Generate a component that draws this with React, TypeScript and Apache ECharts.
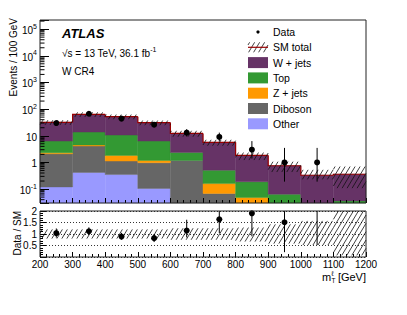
import React, { useEffect, useRef } from "react";
import * as echarts from "echarts";

// ---------- data ----------
const binLow = [200, 300, 400, 500, 600, 700, 800, 900, 1000, 1100];
const binWidth = 100;
// stacked backgrounds (bottom -> top)
const other = [0.12, 0.42, 0.35, 0.105, 0, 0, 0, 0, 0, 0];
const diboson = [1.98, 3.68, 0.77, 0.865, 1.19, 0.068, 0.03, 0, 0, 0];
const zjets = [0.2, 0.4, 0.71, 0.22, 0, 0.092, 0.018, 0, 0, 0];
const topq = [4.0, 9.2, 8.77, 5.1, 1.18, 0.35, 0.14, 0.064, 0, 0.036];
const wjets = [25.7, 49.3, 41.4, 24.7, 9.9, 5.14, 1.64, 0.686, 0.33, 0.324];
// relative SM uncertainty (main panel)
const mainBandUp = [0.2, 0.2, 0.2, 0.2, 0.25, 0.25, 0.28, 0.42, 0.6, 0.95];
const mainBandDn = [0.2, 0.2, 0.2, 0.2, 0.25, 0.25, 0.33, 0.42, 0.3, 0.7];
// relative SM uncertainty (ratio panel)
const ratioBandUp = [0.2, 0.2, 0.2, 0.2, 0.25, 0.25, 0.28, 0.42, 0.57, 1.0];
const ratioBandDn = [0.2, 0.2, 0.2, 0.2, 0.25, 0.25, 0.33, 0.42, 0.48, 0.93];
// data
const dataX = [250, 350, 450, 550, 650, 750, 850, 950, 1050];
const dataY = [30, 67, 44, 26, 13, 9, 3, 1, 1];
const dataErrUp = [6.5, 9.2, 7.7, 6.2, 4.7, 4.1, 3.3, 2.5, 2.5];
const dataErrDn = [5.4, 8.2, 6.6, 5.1, 3.6, 2.9, 1.6, 0.81, 0.81];
// ratio data / SM
const ratioY = [1.04, 1.12, 0.89, 0.82, 1.15, 1.64, 1.9, 1.51, 3.0];
const ratioErrUp = [0.2, 0.17, 0.16, 0.18, 0.47, 0.6, 1.3, 2.5, 7.0];
const ratioErrDn = [0.2, 0.15, 0.14, 0.17, 0.3, 0.6, 1.0, 1.3, 2.48];
// axis ticks
const xTicks = [200, 300, 400, 500, 600, 700, 800, 900, 1000, 1100, 1200];
const ratioTicks = [0, 0.5, 1, 1.5, 2];

const yMin = 0.03;
const yMax = 2.2e5;

const FONT = '"Liberation Sans", Arial, Helvetica, sans-serif';
const C_W = "#663366";
const C_TOP = "#339933";
const C_Z = "#ff9900";
const C_DIB = "#666666";
const C_OTHER = "#9999ff";
const C_TOTAL = "#990000";

const components = [
  { name: "Other", color: C_OTHER, values: other },
  { name: "Diboson", color: C_DIB, values: diboson },
  { name: "Z + jets", color: C_Z, values: zjets },
  { name: "Top", color: C_TOP, values: topq },
  { name: "W + jets", color: C_W, values: wjets },
];

function hatchLines(x0: number, y0: number, x1: number, y1: number, step = 5, k = 0.6, color = "#111", w = 0.8) {
  const out: any[] = [];
  if (x1 <= x0 || y1 <= y0) return out;
  const cmin = x0 + k * y0;
  const cmax = x1 + k * y1;
  for (let c = Math.ceil(cmin / step) * step; c <= cmax; c += step) {
    const ya = Math.max(y0, (c - x1) / k);
    const yb = Math.min(y1, (c - x0) / k);
    if (yb > ya) {
      out.push({
        type: "line",
        shape: { x1: c - k * ya, y1: ya, x2: c - k * yb, y2: yb },
        style: { stroke: color, lineWidth: w },
      });
    }
  }
  return out;
}

function clampY(cs: any, y: number) {
  return Math.min(cs.y + cs.height, Math.max(cs.y, y));
}

export default function App() {
  const ref = useRef<HTMLDivElement>(null);

  useEffect(() => {
    if (!ref.current) return;
    document.body.style.margin = "0";
    const chart = echarts.init(ref.current, undefined, { renderer: "svg" });

    // cumulative stack
    const cum: number[][] = [];
    let prev = binLow.map(() => 0);
    components.forEach((c) => {
      const next = prev.map((p, i) => p + c.values[i]);
      cum.push(prev.slice());
      prev = next;
    });
    const total = prev;

    const stackSeries = components.map((c, ci) => ({
      type: "custom",
      name: c.name,
      xAxisIndex: 0,
      yAxisIndex: 0,
      z: 2,
      data: binLow
        .map((lo, i) => [lo, lo + binWidth, Math.max(cum[ci][i], yMin), cum[ci][i] + c.values[i]])
        .filter((d, i) => c.values[i] > 0 && d[3] > yMin),
      renderItem: (params: any, api: any) => {
        const p0 = api.coord([api.value(0), api.value(3)]);
        const p1 = api.coord([api.value(1), api.value(2)]);
        return {
          type: "rect",
          shape: { x: p0[0], y: p0[1], width: p1[0] - p0[0], height: p1[1] - p0[1] },
          style: { fill: c.color, stroke: c.color, lineWidth: 0.4 },
        };
      },
    }));

    const totalSeries = {
      type: "custom",
      name: "SM total line",
      xAxisIndex: 0,
      yAxisIndex: 0,
      z: 3,
      data: binLow.map((lo, i) => [lo, lo + binWidth, i === 0 ? total[0] : total[i - 1], total[i]]),
      renderItem: (params: any, api: any) => {
        const a = api.coord([api.value(0), api.value(2)]);
        const b = api.coord([api.value(0), api.value(3)]);
        const c = api.coord([api.value(1), api.value(3)]);
        return {
          type: "polyline",
          shape: { points: [a, b, c] },
          style: { stroke: C_TOTAL, lineWidth: 1.2, fill: "none" },
        };
      },
    };

    const mainHatch = {
      type: "custom",
      name: "SM total band",
      xAxisIndex: 0,
      yAxisIndex: 0,
      z: 4,
      data: binLow.map((lo, i) => [lo, lo + binWidth, Math.max(yMin, total[i] * (1 - mainBandDn[i])), total[i] * (1 + mainBandUp[i])]),
      renderItem: (params: any, api: any) => {
        const cs = params.coordSys;
        const p0 = api.coord([api.value(0), api.value(3)]);
        const p1 = api.coord([api.value(1), api.value(2)]);
        return {
          type: "group",
          children: hatchLines(p0[0], clampY(cs, p0[1]), p1[0], clampY(cs, p1[1])),
        };
      },
    };

    const dataSeries = {
      type: "custom",
      name: "Data",
      xAxisIndex: 0,
      yAxisIndex: 0,
      z: 6,
      data: dataX.map((x, i) => [x, dataY[i], dataY[i] + dataErrUp[i], Math.max(yMin, dataY[i] - dataErrDn[i])]),
      renderItem: (params: any, api: any) => {
        const cs = params.coordSys;
        const p = api.coord([api.value(0), api.value(1)]);
        const hi = api.coord([api.value(0), api.value(2)]);
        const lo = api.coord([api.value(0), api.value(3)]);
        return {
          type: "group",
          children: [
            { type: "line", shape: { x1: p[0], y1: clampY(cs, hi[1]), x2: p[0], y2: clampY(cs, lo[1]) }, style: { stroke: "#000", lineWidth: 1 } },
            { type: "circle", shape: { cx: p[0], cy: p[1], r: 3 }, style: { fill: "#000" } },
          ],
        };
      },
    };

    // log minor ticks on main y axis
    const minorVals: number[] = [];
    for (let e = -2; e <= 5; e++) {
      for (let m = 2; m <= 9; m++) {
        const v = m * Math.pow(10, e);
        if (v > yMin && v < yMax) minorVals.push(v);
      }
    }
    const minorTickSeries = {
      type: "custom",
      name: "minor ticks",
      xAxisIndex: 0,
      yAxisIndex: 0,
      z: 20,
      silent: true,
      data: minorVals.map((v) => [200, v]),
      renderItem: (params: any, api: any) => {
        const p = api.coord([api.value(0), api.value(1)]);
        return { type: "line", shape: { x1: p[0], y1: p[1], x2: p[0] + 4.5, y2: p[1] }, style: { stroke: "#000", lineWidth: 1 } };
      },
    };

    const ratioHatch = {
      type: "custom",
      name: "ratio band",
      xAxisIndex: 1,
      yAxisIndex: 1,
      z: 3,
      data: binLow.map((lo, i) => [lo, lo + binWidth, 1 - ratioBandDn[i], 1 + ratioBandUp[i]]),
      renderItem: (params: any, api: any) => {
        const cs = params.coordSys;
        const p0 = api.coord([api.value(0), api.value(3)]);
        const p1 = api.coord([api.value(1), api.value(2)]);
        return {
          type: "group",
          children: hatchLines(p0[0], clampY(cs, p0[1]), p1[0], clampY(cs, p1[1])),
        };
      },
    };

    const ratioSeries = {
      type: "custom",
      name: "ratio",
      xAxisIndex: 1,
      yAxisIndex: 1,
      z: 6,
      data: dataX.map((x, i) => [x, ratioY[i], ratioY[i] + ratioErrUp[i], ratioY[i] - ratioErrDn[i]]),
      renderItem: (params: any, api: any) => {
        const cs = params.coordSys;
        const p = api.coord([api.value(0), api.value(1)]);
        const hi = api.coord([api.value(0), api.value(2)]);
        const lo = api.coord([api.value(0), api.value(3)]);
        const children: any[] = [
          { type: "line", shape: { x1: p[0], y1: clampY(cs, hi[1]), x2: p[0], y2: clampY(cs, lo[1]) }, style: { stroke: "#000", lineWidth: 1 } },
        ];
        if (p[1] >= cs.y && p[1] <= cs.y + cs.height) {
          children.push({ type: "circle", shape: { cx: p[0], cy: p[1], r: 3 }, style: { fill: "#000" } });
        }
        return { type: "group", children };
      },
    };

    const logFormatter = (v: number) => {
      const l = Math.log10(v);
      const e = Math.round(l);
      if (Math.abs(l - e) > 0.01) return "";
      if (e === 0) return "{b|1}";
      if (e === 1) return "{b|10}";
      return "{b|10}{s|" + e + "}";
    };

    // legend
    const legendX = 248;
    const legendTextX = 273;
    const legendY0 = 32;
    const legendStep = 15.3;
    const legendGraphics: any[] = [];
    const legendEntries = [
      { name: "Data", kind: "data" },
      { name: "SM total", kind: "total" },
      { name: "W + jets", kind: "box", color: C_W },
      { name: "Top", kind: "box", color: C_TOP },
      { name: "Z + jets", kind: "box", color: C_Z },
      { name: "Diboson", kind: "box", color: C_DIB },
      { name: "Other", kind: "box", color: C_OTHER },
    ];
    legendEntries.forEach((en, i) => {
      const y = legendY0 + i * legendStep;
      if (en.kind === "data") {
        legendGraphics.push({ type: "circle", shape: { cx: legendX + 10, cy: y, r: 1.6 }, style: { fill: "#000" } });
      } else if (en.kind === "total") {
        hatchLines(legendX, y - 5, legendX + 20, y + 5).forEach((l) => legendGraphics.push(l));
        legendGraphics.push({ type: "line", shape: { x1: legendX, y1: y, x2: legendX + 20, y2: y }, style: { stroke: C_TOTAL, lineWidth: 1.2 } });
      } else {
        legendGraphics.push({ type: "rect", shape: { x: legendX, y: y - 5.5, width: 20, height: 11 }, style: { fill: en.color } });
      }
      legendGraphics.push({
        type: "text",
        x: legendTextX,
        y: y,
        style: { text: en.name, fontSize: 10.5, fontFamily: FONT, fill: "#000", verticalAlign: "middle", align: "left" },
      });
    });

    const option: any = {
      animation: false,
      textStyle: { fontFamily: FONT },
      grid: [
        { left: 40, top: 20, width: 326, height: 183, show: false },
        { left: 40, top: 211, width: 326, height: 46, show: false },
      ],
      xAxis: [
        {
          gridIndex: 0, type: "value", min: 200, max: 1200, interval: 100, z: 10,
          axisLine: { show: false },
          axisTick: { show: true, inside: true, length: 5, lineStyle: { color: "#000" } },
          minorTick: { show: true, splitNumber: 5, length: 3, lineStyle: { color: "#000" } },
          axisLabel: { show: false },
          splitLine: { show: false },
        },
        {
          gridIndex: 1, type: "value", min: 200, max: 1200, interval: 100, z: 10,
          axisLine: { show: false },
          axisTick: { show: true, inside: true, length: 5, lineStyle: { color: "#000" } },
          minorTick: { show: true, splitNumber: 5, length: 3, lineStyle: { color: "#000" } },
          axisLabel: {
            show: true, fontSize: 10, color: "#000", margin: 2, fontFamily: FONT,
            formatter: (v: number) => (xTicks.indexOf(v) >= 0 ? String(v) : ""),
          },
          splitLine: { show: false },
        },
      ],
      yAxis: [
        {
          gridIndex: 0, type: "log", logBase: 10, min: yMin, max: yMax, splitNumber: 7, z: 10,
          axisLine: { show: false },
          axisTick: { show: true, inside: true, length: 9, lineStyle: { color: "#000" } },
          axisLabel: {
            show: true, margin: 3, color: "#000", formatter: logFormatter,
            rich: {
              b: { fontSize: 10, fontFamily: FONT, lineHeight: 13, verticalAlign: "bottom", color: "#000" },
              s: { fontSize: 7, fontFamily: FONT, lineHeight: 7, verticalAlign: "top", color: "#000" },
            },
          },
          splitLine: { show: false },
        },
        {
          gridIndex: 1, type: "value", min: 0, max: 2, interval: 0.5, z: 10,
          axisLine: { show: false },
          axisTick: { show: true, inside: true, length: 6, lineStyle: { color: "#000" } },
          minorTick: { show: true, splitNumber: 5, length: 3, lineStyle: { color: "#000" } },
          axisLabel: {
            show: true, fontSize: 10, color: "#000", margin: 3, fontFamily: FONT,
            formatter: (v: number) => (v === 0 ? "{z|0}" : ratioTicks.indexOf(v) >= 0 ? String(v) : ""),
            rich: { z: { fontSize: 10, fontFamily: FONT, color: "#000", padding: [0, 0, 5, 0] } },
          },
          splitLine: { show: true, lineStyle: { type: [1, 2], color: "#000", width: 0.8 } },
        },
      ],
      series: [...stackSeries, totalSeries, mainHatch, dataSeries, minorTickSeries, ratioHatch, ratioSeries],
      graphic: [
        // frames
        { type: "rect", z: 100, shape: { x: 40, y: 20, width: 326, height: 183 }, style: { fill: "none", stroke: "#222", lineWidth: 1 } },
        { type: "rect", z: 100, shape: { x: 40, y: 211, width: 326, height: 46 }, style: { fill: "none", stroke: "#222", lineWidth: 1 } },
        // texts
        { type: "text", z: 100, x: 62, y: 33, style: { text: "ATLAS", font: 'italic bold 13px "Liberation Sans", Arial, sans-serif', fill: "#000", verticalAlign: "middle" } },
        {
          type: "text", z: 100, x: 62, y: 52,
          style: {
            text: "{a|√s = 13 TeV, 36.1 fb}{s|-1}", verticalAlign: "middle", fill: "#000",
            rich: {
              a: { fontSize: 10, fontFamily: FONT, lineHeight: 13, verticalAlign: "bottom", fill: "#000" },
              s: { fontSize: 7, fontFamily: FONT, lineHeight: 7, verticalAlign: "top", fill: "#000" },
            },
          },
        },
        { type: "text", z: 100, x: 62, y: 71, style: { text: "W CR4", fontSize: 10, fontFamily: FONT, fill: "#000", verticalAlign: "middle" } },
        { type: "text", z: 100, x: 13, y: 18, rotation: Math.PI / 2, style: { text: "Events / 100 GeV", fontSize: 10, fontFamily: FONT, fill: "#000", align: "right", verticalAlign: "middle" } },
        { type: "text", z: 100, x: 17, y: 211, rotation: Math.PI / 2, style: { text: "Data / SM", fontSize: 10, fontFamily: FONT, fill: "#000", align: "right", verticalAlign: "middle" } },
        { type: "text", z: 100, x: 366, y: 277, style: { text: "[GeV]", fontSize: 11, fontFamily: FONT, fill: "#000", align: "right", verticalAlign: "middle" } },
        { type: "text", z: 100, x: 322, y: 277, style: { text: "m", fontSize: 11, fontFamily: FONT, fill: "#000", align: "left", verticalAlign: "middle" } },
        { type: "text", z: 100, x: 331.5, y: 273, style: { text: "ℓ", fontSize: 7, fontFamily: FONT, fill: "#000", align: "left", verticalAlign: "middle" } },
        { type: "text", z: 100, x: 331.5, y: 280.5, style: { text: "T", fontSize: 6.5, fontFamily: FONT, fill: "#000", align: "left", verticalAlign: "middle" } },
        ...legendGraphics.map((g) => ({ ...g, z: 100 })),
      ],
    };

    chart.setOption(option);
    return () => chart.dispose();
  }, []);

  return <div ref={ref} style={{ width: 407, height: 315 }} />;
}
